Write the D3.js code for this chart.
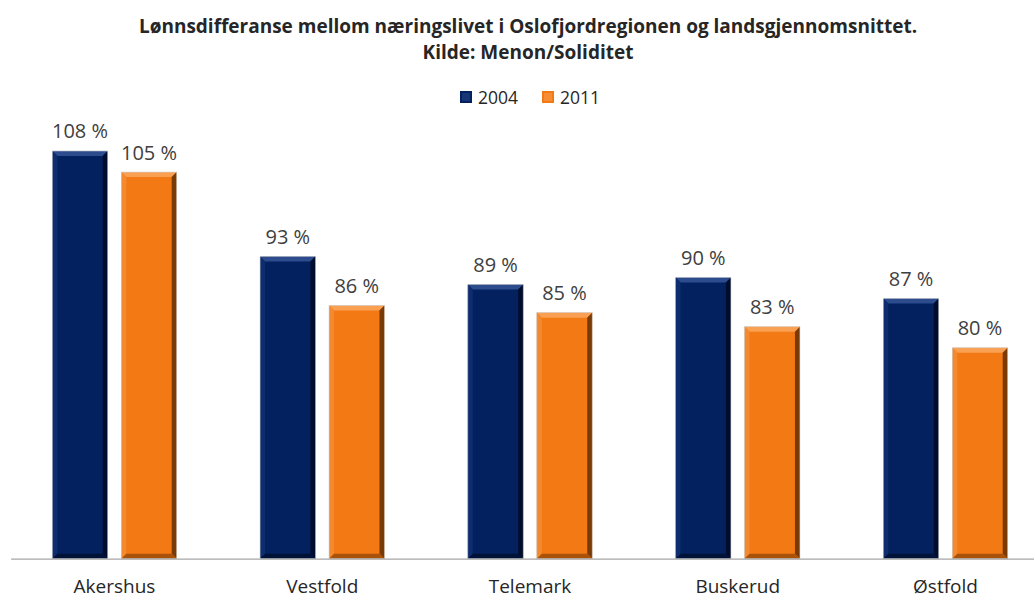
<!DOCTYPE html>
<html>
<head>
<meta charset="utf-8">
<script src="https://cdn.jsdelivr.net/npm/d3@7"></script>
<style>
  body { margin: 0; background: #fff; }
  svg { display: block; font-family: "Open Sans", sans-serif; }
</style>
</head>
<body>
<svg id="chart" width="1034" height="598"></svg>
<script>
// data
const categories = ["Akershus", "Vestfold", "Telemark", "Buskerud", "Østfold"];
const series = ["2004", "2011"];
const values2004 = [108, 93, 89, 90, 87];
const values2011 = [105, 86, 85, 83, 80];
const colors = { "2004": "#03215f", "2011": "#f27914" };
const bevel = {
  "2004": { top: "#2c4c8e", left: "#0e2d6e", right: "#000c2c", bottom: "#011238" },
  "2011": { top: "#f9a052", left: "#f38a30", right: "#7a3a06", bottom: "#a9520a" }
};

const svg = d3.select("#chart");
const baseY = 558.7;

const x = d3.scaleBand().domain(categories).range([10.6, 10.6 + 5 * 207.75]);
const x1 = d3.scaleBand().domain(series).range([41.7, 166.1]).paddingInner(0.197).paddingOuter(0);
const y = d3.scaleLinear().domain([50, 110]).range([baseY, baseY - 60 * 7.03]);

const rows = categories.map((c, i) => ({ cat: c, vals: [
  { s: "2004", v: values2004[i] },
  { s: "2011", v: values2011[i] }
]}));

// title
svg.append("text")
  .attr("x", 528).attr("y", 33)
  .attr("text-anchor", "middle")
  .style("font-weight", "bold").style("font-size", "19px").style("fill", "#262626")
  .text("Lønnsdifferanse mellom næringslivet i Oslofjordregionen og landsgjennomsnittet.");
svg.append("text")
  .attr("x", 528).attr("y", 59)
  .attr("text-anchor", "middle")
  .style("font-weight", "bold").style("font-size", "19px").style("fill", "#262626")
  .text("Kilde: Menon/Soliditet");

// legend
const legend = svg.append("g");
const legX = [460, 542];
series.forEach((s, i) => {
  const g = legend.append("g").attr("transform", `translate(${legX[i]},91)`);
  g.append("rect").attr("width", 12).attr("height", 12).attr("fill", colors[s]);
  g.append("rect").attr("x", 2).attr("y", 2).attr("width", 8).attr("height", 8)
    .attr("fill", bevel[s].top).attr("opacity", 0.5);
  g.append("text").attr("x", 18).attr("y", 12.5)
    .style("font-size", "17.5px").style("fill", "#262626").text(s);
});

// bars with bevel look
const groups = svg.append("g").selectAll("g").data(rows).join("g")
  .attr("transform", d => `translate(${x(d.cat)},0)`);

const bars = groups.selectAll("g.bar").data(d => d.vals).join("g").attr("class", "bar");

const b = 5;
bars.each(function(d) {
  const g = d3.select(this);
  const x0 = x1(d.s), w = x1.bandwidth(), y0 = y(d.v), y1 = baseY;
  const x2 = x0 + w;
  g.append("rect").attr("x", x0).attr("y", y0).attr("width", w).attr("height", y1 - y0)
    .attr("fill", colors[d.s]);
  const poly = (pts, fill) => g.append("polygon")
    .attr("points", pts.map(p => p.join(",")).join(" ")).attr("fill", fill);
  poly([[x0, y0], [x2, y0], [x2 - b, y0 + b], [x0 + b, y0 + b]], bevel[d.s].top);
  poly([[x0, y0], [x0 + b, y0 + b], [x0 + b, y1 - b], [x0, y1]], bevel[d.s].left);
  poly([[x2, y0], [x2, y1], [x2 - b, y1 - b], [x2 - b, y0 + b]], bevel[d.s].right);
  poly([[x0, y1], [x0 + b, y1 - b], [x2 - b, y1 - b], [x2, y1]], bevel[d.s].bottom);
  g.append("rect").attr("x", x0).attr("y", y0).attr("width", w).attr("height", y1 - y0)
    .attr("fill", "none").attr("stroke", "#d0d0d0").attr("stroke-width", 0.6);
});

// value labels
bars.append("text")
  .attr("x", d => x1(d.s) + x1.bandwidth() / 2)
  .attr("y", d => y(d.v) - 12.5)
  .attr("text-anchor", "middle")
  .style("font-size", "20px").style("fill", "#404040")
  .text(d => d.v + " %");

// category axis
const axis = svg.append("g").attr("transform", `translate(0,${baseY})`)
  .call(d3.axisBottom(x).tickSize(0).tickPadding(21));
axis.select(".domain").attr("stroke", "#a6a6a6").attr("stroke-width", 1.3);
axis.selectAll(".tick text")
  .style("font-size", "19px").style("font-family", "Open Sans, sans-serif").style("fill", "#262626");
</script>
</body>
</html>
